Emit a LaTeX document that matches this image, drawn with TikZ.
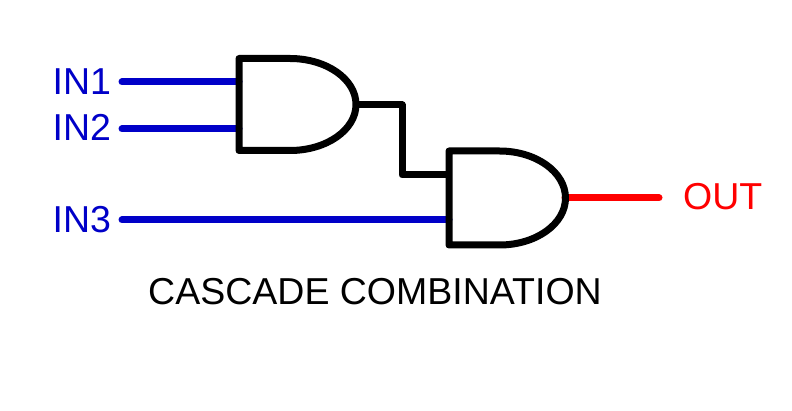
\documentclass[tikz,border=0pt]{standalone}
\usepackage{fontspec}
\setmainfont{Liberation Sans}
\definecolor{wireblue}{RGB}{0,0,200}
\definecolor{wirered}{RGB}{255,0,0}
\tikzset{
  wire/.style={line width=7pt, line cap=round, line join=round},
  gate/.style={line width=7pt, line join=round, draw=black},
  lbl/.style={inner sep=0pt, font=\fontsize{37.5}{45}\selectfont},
}
\begin{document}
\begin{tikzpicture}[x=1pt,y=-1pt]
\useasboundingbox[fill=white] (0,0) rectangle (792,411);
% pin coordinates
\coordinate (in1s) at (122,82);
\coordinate (in2s) at (122,129);
\coordinate (in3s) at (122,220);
\coordinate (g1in1) at (239,82);
\coordinate (g1in2) at (239,129);
\coordinate (g1out) at (356,105);
\coordinate (bend) at (402,140);
\coordinate (g2in1) at (449,175);
\coordinate (g2in2) at (449,220);
\coordinate (g2out) at (565,198);
\coordinate (outend) at (659,198);
% wires
\draw[wire, wireblue] (in1s) -- (g1in1);
\draw[wire, wireblue] (in2s) -- (g1in2);
\draw[wire, wireblue] (in3s) -- (g2in2);
\draw[wire, black, line cap=butt] (g1out) -| (bend) |- (g2in1);
\draw[wire, wirered] (g2out) -- (outend);
% gates
\draw[gate] (239,58.5) -- (290,58.5) arc[start angle=-90, end angle=90, x radius=66, y radius=46] -- (239,150.5) -- cycle;
\draw[gate] (449,151) -- (499.5,151) arc[start angle=-90, end angle=90, x radius=66, y radius=47] -- (449,245) -- cycle;
% labels
\node[lbl, anchor=base west, text=wireblue] (lin1) at (52.5,95) {IN1};
\node[lbl, anchor=base west, text=wireblue] (lin2) at (52.5,141) {IN2};
\node[lbl, anchor=base west, text=wireblue] (lin3) at (52.5,233) {IN3};
\node[lbl, anchor=base west, text=wirered] (lout) at (683,210) {OUT};
\node[lbl, anchor=base, text=black] (title) at (375,305) {CASCADE COMBINATION};
\end{tikzpicture}
\end{document}
